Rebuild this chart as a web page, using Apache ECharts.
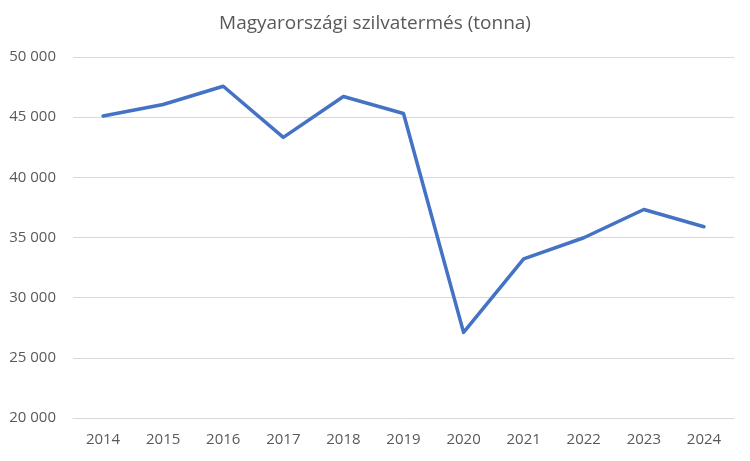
<!DOCTYPE html>
<html>
<head>
<meta charset="utf-8">
<script src="https://cdn.jsdelivr.net/npm/echarts@6/dist/echarts.min.js"></script>
<style>
  html, body { margin: 0; padding: 0; background: #fff; }
  #chart { width: 750px; height: 461px; }
</style>
</head>
<body>
<div id="chart"></div>
<script>
var years = ['2014', '2015', '2016', '2017', '2018', '2019', '2020', '2021', '2022', '2023', '2024'];
var harvest = [45100, 46050, 47570, 43320, 46720, 45300, 27110, 33220, 34980, 37330, 35890];
var yTicks = [20000, 25000, 30000, 35000, 40000, 45000, 50000];

var font = "'Open Sans', sans-serif";
function fmt(v){ return String(v).replace(/\B(?=(\d{3})+(?!\d))/g, ' '); }

var chart = echarts.init(document.getElementById('chart'));
chart.setOption({
  animation: false,
  title: {
    text: 'Magyarországi szilvatermés (tonna)',
    left: 'center', top: 9,
    textStyle: { fontFamily: font, fontSize: 19, fontWeight: 'normal', color: '#595959' }
  },
  grid: { left: 73, right: 16, top: 57, bottom: 43 },
  xAxis: {
    type: 'category',
    data: years,
    boundaryGap: true,
    axisLine: { show: true, lineStyle: { color: '#d9d9d9' } },
    axisTick: { show: false },
    axisLabel: { fontFamily: font, fontSize: 15, color: '#595959', margin: 14 }
  },
  yAxis: {
    type: 'value',
    min: yTicks[0], max: yTicks[yTicks.length - 1], interval: 5000,
    axisLine: { show: false },
    axisTick: { show: false },
    splitLine: { lineStyle: { color: '#d9d9d9', width: 1 } },
    axisLabel: { fontFamily: font, fontSize: 15, color: '#595959', margin: 17, formatter: fmt }
  },
  series: [{
    type: 'line',
    data: harvest,
    symbol: 'none',
    lineStyle: { color: '#4472c4', width: 3.5, cap: 'round', join: 'round' }
  }]
});
</script>
</body>
</html>
